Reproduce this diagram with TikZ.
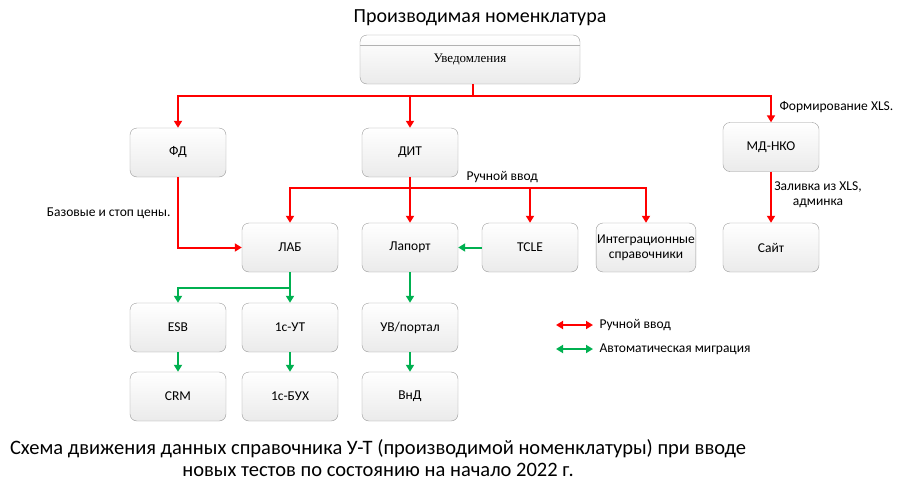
\documentclass[tikz,border=0pt]{standalone}
\usepackage{fontspec}
\setmainfont{Carlito}
\newfontfamily\serifff{Liberation Serif}
\usetikzlibrary{arrows.meta}
\definecolor{rd}{RGB}{255,0,0}
\definecolor{gr}{RGB}{0,176,80}
\begin{document}
\begin{tikzpicture}[x=1pt,y=-1pt,
 box/.style={draw=black!40,rounded corners=7pt,top color=white,bottom color=black!8,minimum width=96pt,minimum height=49pt,font=\fontsize{13.5}{15}\selectfont,align=center,inner sep=1pt},
 r/.style={draw=rd,line width=2pt,-{Triangle[length=7pt,width=8pt]}},
 g/.style={draw=gr,line width=2pt,-{Triangle[length=7pt,width=8pt]}},
 lbl/.style={font=\fontsize{13.5}{15}\selectfont}]
\useasboundingbox (0,0) rectangle (900,493);
\node[font=\fontsize{20}{22}\selectfont] (title) at (480,18) {Производимая номенклатура};
\node[box,minimum width=220pt,minimum height=49pt,font=\serifff\fontsize{13}{15}\selectfont] (uv) at (470,59.5) {Уведомления};
\draw[black!30] (360,45) -- (580,45);
\node[box] (fd) at (178,152.5) {ФД};
\node[box] (dit) at (410,152.5) {ДИТ};
\node[box] (md) at (771,147) {МД-НКО};
\node[box] (lab) at (290,247.5) {ЛАБ};
\node[box] (lap) at (410,247.5) {Лапорт};
\node[box] (tcle) at (530,247.5) {TCLE};
\node[box] (int) at (646,247.5) {Интеграционные\\справочники};
\node[box] (site) at (771,247.5) {Сайт};
\node[box] (esb) at (178,327.5) {ESB};
\node[box] (ut) at (290,327.5) {1с-УТ};
\node[box] (uvp) at (410,327.5) {УВ/портал};
\node[box] (crm) at (178,396.5) {CRM};
\node[box] (buh) at (290,396.5) {1с-БУХ};
\node[box] (vnd) at (410,396.5) {ВнД};
\coordinate (j1) at (473,96);
\coordinate (j2) at (410,188);
\coordinate (j3) at (290,288);
\draw[rd,line width=2pt] (uv.south -| j1) -- (j1);
\draw[r] (j1) -| (fd.north);
\draw[r] (j1) -| (dit.north);
\draw[r] (j1) -| (md.north);
\draw[rd,line width=2pt] (dit.south) -- (j2);
\draw[r] (j2) -| (lab.north);
\draw[r] (j2) -- (lap.north);
\draw[r] (j2) -| (tcle.north);
\draw[r] (j2) -| (int.north);
\draw[r] (fd.south) |- (lab.west);
\draw[r] (md.south) -- (site.north);
\draw[gr,line width=2pt] (lab.south) -- (j3);
\draw[g] (j3) -| (esb.north);
\draw[g] (j3) -- (ut.north);
\draw[g] (tcle.west) -- (lap.east);
\draw[g] (lap.south) -- (uvp.north);
\draw[g] (esb.south) -- (crm.north);
\draw[g] (ut.south) -- (buh.north);
\draw[g] (uvp.south) -- (vnd.north);
\node[lbl,anchor=west] (l1) at (776,107) {Формирование XLS.};
\node[lbl,anchor=west] (l2) at (463,177) {Ручной ввод};
\node[lbl,anchor=east] (l3) at (174,213) {Базовые и стоп цены.};
\node[lbl,align=center] (l4) at (818,195) {Заливка из XLS,\\админка};
\coordinate (a1) at (556,325); \coordinate (a2) at (593,325);
\draw[rd,line width=2pt,{Triangle[length=7pt,width=8pt]}-{Triangle[length=7pt,width=8pt]}] (a1) -- (a2);
\node[lbl,anchor=west] (t1) at (596,325) {Ручной ввод};
\coordinate (b1) at (556,349); \coordinate (b2) at (593,349);
\draw[gr,line width=2pt,{Triangle[length=7pt,width=8pt]}-{Triangle[length=7pt,width=8pt]}] (b1) -- (b2);
\node[lbl,anchor=west] (t2) at (596,349) {Автоматическая миграция};
\node[font=\fontsize{20.5}{22}\selectfont,align=center] (cap) at (378,458) {Схема движения данных справочника У-Т (производимой номенклатуры) при вводе\\новых тестов по состоянию на начало 2022 г.};
\end{tikzpicture}
\end{document}
